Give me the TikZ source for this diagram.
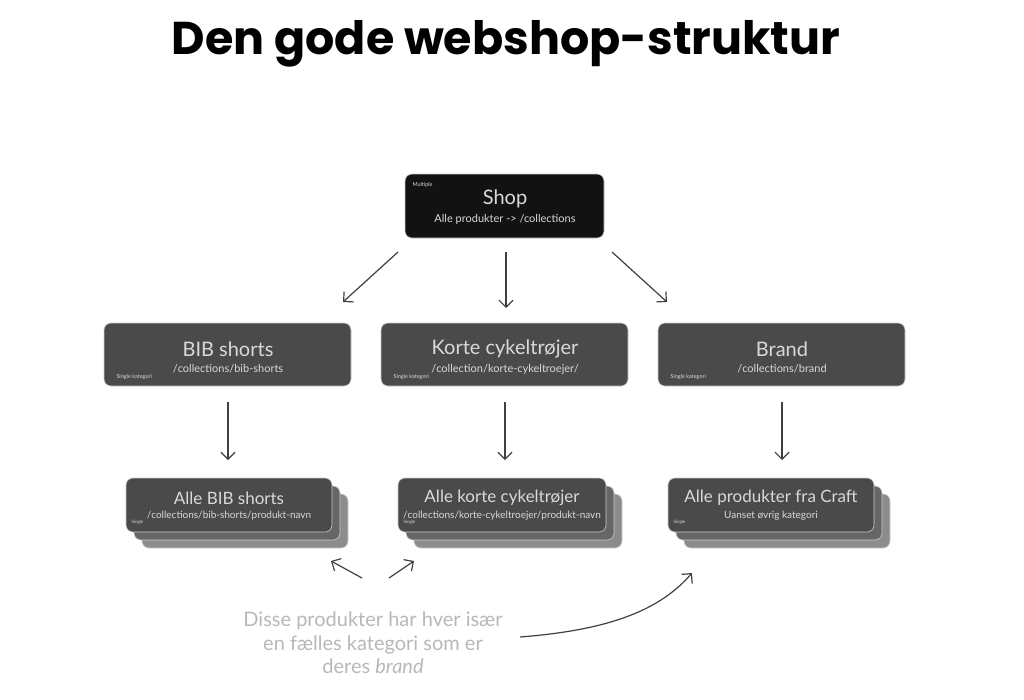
\documentclass[tikz,border=0pt]{standalone}
\usepackage{fontspec}
\setmainfont{Lato}
\newfontfamily\titlefont{Poppins}[UprightFont=* Bold]
\usetikzlibrary{arrows.meta}
\definecolor{mid}{HTML}{4A4A4A}
\begin{document}
\begin{tikzpicture}[x=1pt,y=-1pt,
  arr/.style={draw=black!75,line width=1.2pt,-{Straight Barb[length=7pt,width=14pt,line width=1.2pt]}},
  box/.style={rounded corners=7pt,draw=white!80!black,line width=0.6pt},
  big/.style={text=white!85!black,font=\fontsize{20}{22}\selectfont},
  sub/.style={text=white!85!black,font=\fontsize{11}{12}\selectfont},
  tiny/.style={text=white!85!black,font=\fontsize{5.5}{6}\selectfont,anchor=south west},
  note/.style={text=black!28,font=\fontsize{20}{23.5}\selectfont,align=center}]
\useasboundingbox[fill=white] (0,0) rectangle (1024,699);
\node[font=\titlefont\fontsize{46}{50}\selectfont] (title) at (506,44) {Den gode webshop-struktur};
% shop
\draw[box,fill=black!93] (405,174) rectangle (604,238);
\node[big] (shop) at (505,199) {Shop};
\node[sub] (shops) at (505,219) {Alle produkter -> /collections};
\node[tiny,anchor=north west] (shopt) at (409,179) {Multiple};
% middle
\foreach \x/\n/\t/\s in {104/bib/BIB shorts/\slash collections\slash bib-shorts,381/kor/Korte cykeltrøjer/\slash collection\slash korte-cykeltroejer\slash,658/bra/Brand/\slash collections\slash brand}{
  \draw[box,fill=mid] (\x,323) rectangle (\x+247,386);
  \node[big] (\n) at (\x+124,349) {\t};
  \node[sub] (\n s) at (\x+124,369) {\s};
  \node[tiny] (\n t) at (\x+9,383) {Single kategori};
}
% bottom stacks
\foreach \x/\w/\n/\t/\s in {126/206/a/Alle BIB shorts/\slash collections\slash bib-shorts\slash produkt-navn,398/208/b/Alle korte cykeltrøjer/\slash collections\slash korte-cykeltroejer\slash produkt-navn,668/206/c/Alle produkter fra Craft/Uanset øvrig kategori}{
  \draw[box,fill=black!45] (\x+16,494) rectangle (\x+\w+16,548);
  \draw[box,fill=black!60] (\x+8,486) rectangle (\x+\w+8,540);
  \draw[box,fill=mid] (\x,478) rectangle (\x+\w,532);
  \node[big,font=\fontsize{17}{19}\selectfont] (\n) at (\x+\w/2,498) {\t};
  \node[sub,font=\fontsize{10}{11}\selectfont] (\n s) at (\x+\w/2,516) {\s};
  \node[tiny,font=\fontsize{4.5}{5}\selectfont] (\n t) at (\x+2,528) {Single};
}
\coordinate (p1) at (398,252); \coordinate (q1) at (343,302);
\coordinate (p2) at (506,252); \coordinate (q2) at (506,308);
\coordinate (p3) at (612,252); \coordinate (q3) at (667,302);
\draw[arr] (p1) -- (q1); \draw[arr] (p2) -- (q2); \draw[arr] (p3) -- (q3);
\foreach \x in {228,505,782}{
  \coordinate (m\x) at (\x,402); \coordinate (n\x) at (\x,460);
  \draw[arr] (m\x) -- (n\x);
}
\node[note] (note) at (373,643) {Disse produkter har hver især\\en fælles kategori som er\\deres \textit{brand}};
\coordinate (r1) at (362,578); \coordinate (s1) at (331,561);
\coordinate (r2) at (389,578); \coordinate (s2) at (414,561);
\coordinate (r3) at (520,637); \coordinate (s3) at (692,573);
\draw[arr] (r1) -- (s1); \draw[arr] (r2) -- (s2);
\draw[arr] (r3) .. controls (610,630) and (660,610) .. (s3);
\end{tikzpicture}
\end{document}
